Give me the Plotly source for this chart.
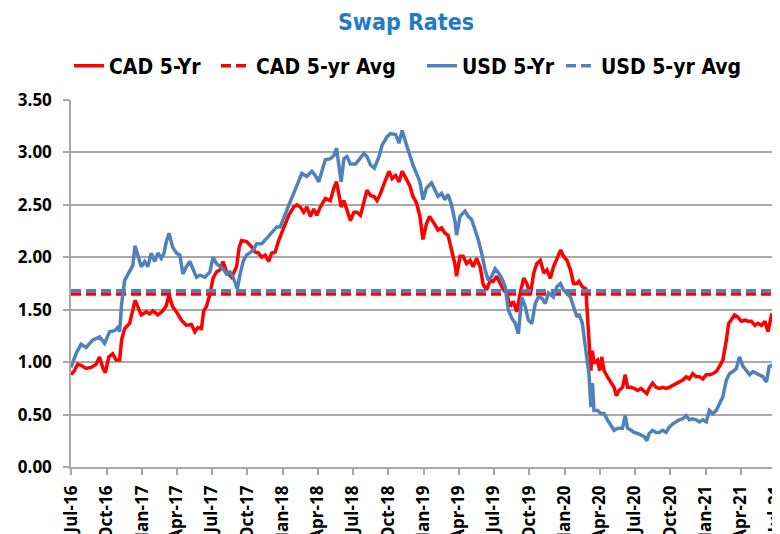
import plotly.graph_objects as go

# ---------------- data ----------------
cad_dates = [
    "2016-07-01", "2016-07-10", "2016-07-18", "2016-07-27", "2016-08-09", "2016-08-22", "2016-09-04", "2016-09-13",
    "2016-09-21", "2016-09-28", "2016-10-07", "2016-10-17", "2016-10-26", "2016-11-04", "2016-11-09", "2016-11-17",
    "2016-11-30", "2016-12-08", "2016-12-14", "2016-12-21", "2016-12-30", "2017-01-12", "2017-01-21", "2017-01-29",
    "2017-02-11", "2017-02-24", "2017-03-05", "2017-03-12", "2017-03-21", "2017-03-31", "2017-04-13", "2017-04-26",
    "2017-05-09", "2017-05-18", "2017-05-26", "2017-06-04", "2017-06-10", "2017-06-17", "2017-06-26", "2017-07-04",
    "2017-07-13", "2017-07-22", "2017-07-30", "2017-08-08", "2017-08-21", "2017-09-03", "2017-09-10", "2017-09-16",
    "2017-09-29", "2017-10-12", "2017-10-21", "2017-10-30", "2017-11-07", "2017-11-16", "2017-11-25", "2017-12-03",
    "2017-12-12", "2017-12-21", "2017-12-29", "2018-01-07", "2018-01-16", "2018-01-29", "2018-02-06", "2018-02-15",
    "2018-02-24", "2018-03-04", "2018-03-13", "2018-03-22", "2018-03-30", "2018-04-08", "2018-04-21", "2018-05-04",
    "2018-05-13", "2018-05-20", "2018-05-26", "2018-06-01", "2018-06-08", "2018-06-16", "2018-06-25", "2018-07-04",
    "2018-07-12", "2018-07-21", "2018-07-30", "2018-08-07", "2018-08-16", "2018-08-25", "2018-09-02", "2018-09-11",
    "2018-09-20", "2018-10-03", "2018-10-11", "2018-10-20", "2018-10-29", "2018-11-06", "2018-11-15", "2018-11-26",
    "2018-12-04", "2018-12-13", "2018-12-22", "2018-12-30", "2019-01-08", "2019-01-16", "2019-01-25", "2019-02-07",
    "2019-02-16", "2019-02-25", "2019-03-05", "2019-03-14", "2019-03-23", "2019-03-27", "2019-04-05", "2019-04-13",
    "2019-04-22", "2019-05-01", "2019-05-09", "2019-05-18", "2019-05-27", "2019-06-04", "2019-06-13", "2019-06-22",
    "2019-06-30", "2019-07-09", "2019-07-18", "2019-07-26", "2019-08-04", "2019-08-13", "2019-08-21", "2019-08-30",
    "2019-09-08", "2019-09-17", "2019-09-25", "2019-10-04", "2019-10-13", "2019-10-21", "2019-10-30", "2019-11-08",
    "2019-11-16", "2019-11-25", "2019-12-03", "2019-12-16", "2019-12-22", "2019-12-29", "2020-01-07", "2020-01-16",
    "2020-01-24", "2020-02-02", "2020-02-07", "2020-02-16", "2020-02-25", "2020-02-29", "2020-03-04", "2020-03-09",
    "2020-03-13", "2020-03-17", "2020-03-26", "2020-04-01", "2020-04-06", "2020-04-12", "2020-04-21", "2020-04-30",
    "2020-05-08", "2020-05-14", "2020-05-21", "2020-05-30", "2020-06-06", "2020-06-12", "2020-06-21", "2020-06-29",
    "2020-07-08", "2020-07-17", "2020-07-25", "2020-08-01", "2020-08-07", "2020-08-16", "2020-08-25", "2020-09-02",
    "2020-09-11", "2020-09-20", "2020-09-28", "2020-10-07", "2020-10-16", "2020-10-24", "2020-11-02", "2020-11-11",
    "2020-11-19", "2020-11-28", "2020-12-07", "2020-12-15", "2020-12-24", "2021-01-02", "2021-01-10", "2021-01-19",
    "2021-01-28", "2021-02-05", "2021-02-14", "2021-02-23", "2021-03-01", "2021-03-07", "2021-03-16", "2021-03-25",
    "2021-04-03", "2021-04-12", "2021-04-20", "2021-04-29", "2021-05-08", "2021-05-16", "2021-05-25", "2021-06-03",
    "2021-06-11", "2021-06-20", "2021-06-29", "2021-07-08", "2021-07-13",
]
cad_5yr = [
    0.88, 0.92, 0.98, 0.97, 0.94, 0.95, 0.98, 1.05,
    0.95, 0.90, 1.05, 1.08, 1.02, 1.02, 1.21, 1.32,
    1.37, 1.49, 1.59, 1.53, 1.45, 1.48, 1.46, 1.49,
    1.45, 1.49, 1.54, 1.64, 1.53, 1.48, 1.40, 1.35,
    1.36, 1.29, 1.33, 1.32, 1.49, 1.53, 1.65, 1.80,
    1.86, 1.88, 1.96, 1.86, 1.81, 1.91, 2.10, 2.16,
    2.15, 2.10, 2.05, 2.04, 2.00, 2.02, 1.96, 2.04,
    2.05, 2.16, 2.23, 2.32, 2.40, 2.48, 2.50, 2.48,
    2.43, 2.48, 2.39, 2.46, 2.40, 2.48, 2.56, 2.54,
    2.66, 2.72, 2.58, 2.48, 2.54, 2.46, 2.35, 2.43,
    2.43, 2.40, 2.54, 2.64, 2.59, 2.58, 2.54, 2.61,
    2.70, 2.82, 2.75, 2.78, 2.72, 2.82, 2.76, 2.68,
    2.58, 2.52, 2.39, 2.17, 2.32, 2.39, 2.34, 2.26,
    2.28, 2.23, 2.21, 2.07, 1.93, 1.82, 2.01, 2.01,
    1.94, 1.97, 1.91, 1.99, 1.91, 1.74, 1.69, 1.78,
    1.77, 1.82, 1.75, 1.69, 1.66, 1.53, 1.58, 1.48,
    1.66, 1.80, 1.75, 1.64, 1.85, 1.94, 1.97, 1.85,
    1.88, 1.80, 1.91, 2.01, 2.07, 2.01, 1.97, 1.88,
    1.75, 1.75, 1.77, 1.72, 1.70, 1.45, 1.15, 0.92,
    1.11, 0.99, 1.02, 0.92, 1.05, 0.92, 0.86, 0.80,
    0.76, 0.68, 0.73, 0.76, 0.88, 0.76, 0.76, 0.75,
    0.73, 0.75, 0.72, 0.70, 0.75, 0.80, 0.76, 0.75,
    0.76, 0.75, 0.76, 0.78, 0.80, 0.81, 0.83, 0.86,
    0.84, 0.89, 0.86, 0.86, 0.84, 0.88, 0.88, 0.89,
    0.91, 0.96, 1.02, 1.21, 1.37, 1.40, 1.45, 1.43,
    1.39, 1.40, 1.39, 1.39, 1.35, 1.37, 1.35, 1.39,
    1.29, 1.45, 1.46, 1.37, 1.42,
]

usd_dates = [
    "2016-07-01", "2016-07-14", "2016-07-27", "2016-08-09", "2016-08-26", "2016-09-13", "2016-09-26", "2016-10-09",
    "2016-10-22", "2016-10-30", "2016-11-04", "2016-11-09", "2016-11-17", "2016-11-30", "2016-12-08", "2016-12-14",
    "2016-12-21", "2016-12-30", "2017-01-08", "2017-01-16", "2017-01-25", "2017-02-03", "2017-02-11", "2017-02-20",
    "2017-02-27", "2017-03-05", "2017-03-12", "2017-03-21", "2017-03-31", "2017-04-09", "2017-04-17", "2017-04-26",
    "2017-05-05", "2017-05-13", "2017-05-22", "2017-05-31", "2017-06-13", "2017-06-26", "2017-07-04", "2017-07-13",
    "2017-07-22", "2017-07-30", "2017-08-08", "2017-08-17", "2017-08-25", "2017-09-05", "2017-09-12", "2017-09-21",
    "2017-09-29", "2017-10-06", "2017-10-17", "2017-10-25", "2017-11-07", "2017-11-20", "2017-12-03", "2017-12-16",
    "2017-12-25", "2018-01-07", "2018-01-20", "2018-01-29", "2018-02-06", "2018-02-19", "2018-03-04", "2018-03-17",
    "2018-03-26", "2018-04-04", "2018-04-12", "2018-04-21", "2018-05-04", "2018-05-13", "2018-05-20", "2018-05-26",
    "2018-06-01", "2018-06-08", "2018-06-16", "2018-06-25", "2018-07-08", "2018-07-17", "2018-07-30", "2018-08-07",
    "2018-08-16", "2018-08-26", "2018-09-07", "2018-09-15", "2018-09-28", "2018-10-07", "2018-10-20", "2018-10-29",
    "2018-11-06", "2018-11-15", "2018-11-26", "2018-12-04", "2018-12-13", "2018-12-22", "2018-12-30", "2019-01-08",
    "2019-01-21", "2019-01-30", "2019-02-07", "2019-02-16", "2019-02-25", "2019-03-05", "2019-03-14", "2019-03-23",
    "2019-03-27", "2019-04-05", "2019-04-18", "2019-04-26", "2019-05-05", "2019-05-14", "2019-05-22", "2019-05-31",
    "2019-06-09", "2019-06-17", "2019-06-26", "2019-07-05", "2019-07-14", "2019-07-22", "2019-07-31", "2019-08-08",
    "2019-08-17", "2019-08-26", "2019-09-03", "2019-09-12", "2019-09-21", "2019-09-29", "2019-10-08", "2019-10-17",
    "2019-10-25", "2019-11-03", "2019-11-12", "2019-11-20", "2019-12-03", "2019-12-12", "2019-12-21", "2019-12-29",
    "2020-01-07", "2020-01-16", "2020-01-24", "2020-02-02", "2020-02-07", "2020-02-16", "2020-02-25", "2020-03-04",
    "2020-03-09", "2020-03-13", "2020-03-17", "2020-03-26", "2020-04-04", "2020-04-12", "2020-04-21", "2020-04-30",
    "2020-05-08", "2020-05-17", "2020-05-30", "2020-06-06", "2020-06-12", "2020-06-21", "2020-06-29", "2020-07-08",
    "2020-07-17", "2020-07-25", "2020-08-01", "2020-08-07", "2020-08-16", "2020-08-25", "2020-09-02", "2020-09-11",
    "2020-09-20", "2020-09-28", "2020-10-07", "2020-10-16", "2020-10-24", "2020-11-02", "2020-11-11", "2020-11-19",
    "2020-11-28", "2020-12-07", "2020-12-15", "2020-12-24", "2021-01-02", "2021-01-10", "2021-01-19", "2021-01-28",
    "2021-02-05", "2021-02-14", "2021-02-23", "2021-03-03", "2021-03-12", "2021-03-21", "2021-03-29", "2021-04-07",
    "2021-04-16", "2021-04-24", "2021-05-03", "2021-05-12", "2021-05-20", "2021-05-29", "2021-06-07", "2021-06-14",
    "2021-06-24", "2021-07-03", "2021-07-13",
]
usd_5yr = [
    0.95, 1.08, 1.17, 1.14, 1.21, 1.24, 1.18, 1.29,
    1.30, 1.33, 1.29, 1.55, 1.78, 1.86, 1.92, 2.11,
    2.02, 1.91, 1.96, 1.91, 2.04, 1.96, 2.04, 1.99,
    2.04, 2.15, 2.23, 2.10, 2.04, 2.02, 1.84, 1.91,
    1.96, 1.88, 1.81, 1.83, 1.81, 1.86, 2.00, 1.94,
    1.91, 1.89, 1.84, 1.86, 1.81, 1.70, 1.84, 1.97,
    2.02, 2.04, 2.07, 2.13, 2.13, 2.18, 2.23, 2.29,
    2.29, 2.42, 2.53, 2.61, 2.69, 2.80, 2.77, 2.82,
    2.78, 2.72, 2.82, 2.93, 2.94, 2.97, 3.04, 2.88,
    2.72, 2.94, 2.96, 2.89, 2.89, 2.93, 2.99, 2.96,
    2.88, 2.85, 2.96, 3.07, 3.15, 3.18, 3.17, 3.09,
    3.21, 3.10, 2.96, 2.88, 2.80, 2.72, 2.55, 2.66,
    2.71, 2.63, 2.58, 2.61, 2.55, 2.60, 2.50, 2.34,
    2.21, 2.39, 2.44, 2.39, 2.36, 2.26, 2.17, 2.04,
    1.88, 1.78, 1.82, 1.89, 1.85, 1.80, 1.72, 1.50,
    1.42, 1.37, 1.27, 1.62, 1.53, 1.40, 1.37, 1.56,
    1.62, 1.61, 1.56, 1.66, 1.62, 1.72, 1.75, 1.69,
    1.66, 1.62, 1.53, 1.43, 1.46, 1.37, 1.11, 0.89,
    0.57, 0.80, 0.54, 0.54, 0.51, 0.51, 0.45, 0.40,
    0.35, 0.37, 0.37, 0.49, 0.37, 0.35, 0.33, 0.32,
    0.30, 0.29, 0.25, 0.32, 0.35, 0.33, 0.33, 0.35,
    0.33, 0.38, 0.41, 0.43, 0.45, 0.46, 0.49, 0.45,
    0.46, 0.45, 0.43, 0.45, 0.43, 0.54, 0.51, 0.54,
    0.61, 0.67, 0.83, 0.89, 0.91, 0.94, 1.05, 0.96,
    0.92, 0.88, 0.91, 0.89, 0.88, 0.86, 0.81, 0.96,
    0.97, 0.94, 0.86,
]

cad_avg = 1.65
usd_avg = 1.68

tick_dates = ["2016-07-01", "2016-10-01", "2017-01-01", "2017-04-01", "2017-07-01", "2017-10-01",
              "2018-01-01", "2018-04-01", "2018-07-01", "2018-10-01", "2019-01-01", "2019-04-01",
              "2019-07-01", "2019-10-01", "2020-01-01", "2020-04-01", "2020-07-01", "2020-10-01",
              "2021-01-01", "2021-04-01", "2021-07-01"]
y_ticks = [0, 0.5, 1.0, 1.5, 2.0, 2.5, 3.0, 3.5]

x_start = "2016-07-01"
x_end = "2021-07-12"

RED = "#FF0000"
BLUE = "#4F81BD"
GRID = "#A8A8A8"
NARROW = "DejaVu Sans Condensed, Liberation Sans Narrow, sans-serif"
TICKFONT = "Open Sans, Noto Sans, sans-serif"

fig = go.Figure()
fig.add_trace(go.Scatter(x=cad_dates, y=cad_5yr, mode="lines", name="CAD 5-Yr",
                         line=dict(color=RED, width=3.5), legend="legend"))
fig.add_trace(go.Scatter(x=[x_start, cad_dates[-1]], y=[cad_avg, cad_avg], mode="lines", name="CAD 5-yr Avg",
                         line=dict(color=RED, width=3.5, dash="10px,5px"), legend="legend2"))
fig.add_trace(go.Scatter(x=usd_dates, y=usd_5yr, mode="lines", name="USD 5-Yr",
                         line=dict(color=BLUE, width=3.5), legend="legend3"))
fig.add_trace(go.Scatter(x=[x_start, usd_dates[-1]], y=[usd_avg, usd_avg], mode="lines", name="USD 5-yr Avg",
                         line=dict(color=BLUE, width=3.5, dash="10px,5px"), legend="legend4"))

# The page body has an 8px margin, so the figure starts at (8, 8) in the window.
OFF = 8
W, H = 780 - OFF, 534 - OFF
ML, MR, MT, MB = 71 - OFF, 0, 100 - OFF, 534 - 467
pw = W - ML - MR
ph = H - MT - MB


def lx(px):
    return (px - OFF - ML) / pw


leg_y = 1 + (100 - 66) / ph
leg_common = dict(orientation="h", y=leg_y, yanchor="middle", xanchor="left",
                  bgcolor="rgba(0,0,0,0)", borderwidth=0,
                  font=dict(family=NARROW, size=21, color="black", weight="bold"))

fig.update_layout(
    template="none",
    width=W, height=H,
    margin=dict(l=ML, r=MR, t=MT, b=MB, pad=0),
    paper_bgcolor="white", plot_bgcolor="white",
    showlegend=True,
    title=dict(text="Swap Rates", x=(406 - OFF) / W, xanchor="center", y=1 - (22 - OFF) / H, yanchor="middle",
               font=dict(family=NARROW, size=23, color="#1F7CC4", weight="bold")),
    legend=dict(x=lx(69), **leg_common),
    legend2=dict(x=lx(216), **leg_common),
    legend3=dict(x=lx(422), **leg_common),
    legend4=dict(x=lx(561), **leg_common),
    xaxis=dict(type="date", range=[x_start, x_end], tickmode="array", tickvals=tick_dates,
               tickformat="%b-%y", tickangle=-90, showgrid=False, showline=True, linecolor=GRID,
               linewidth=1.5, ticks="outside", ticklen=6, tickwidth=1.5, tickcolor=GRID,
               tickfont=dict(family=TICKFONT, size=17, color="black", weight="bold"),
               ticklabeloverflow="allow",
               automargin=False, zeroline=False, ticklabelstandoff=4),
    yaxis=dict(range=[0, 3.5], tickmode="array", tickvals=y_ticks, tickformat=".2f",
               showgrid=True, gridcolor=GRID, gridwidth=1.5, showline=True, linecolor=GRID,
               linewidth=1.5, ticks="outside", ticklen=6, tickwidth=1.5, tickcolor=GRID,
               tickfont=dict(family=TICKFONT, size=17, color="black", weight="bold"),
               automargin=False, zeroline=False, ticklabelstandoff=8),
)

fig.write_html("out.html")
